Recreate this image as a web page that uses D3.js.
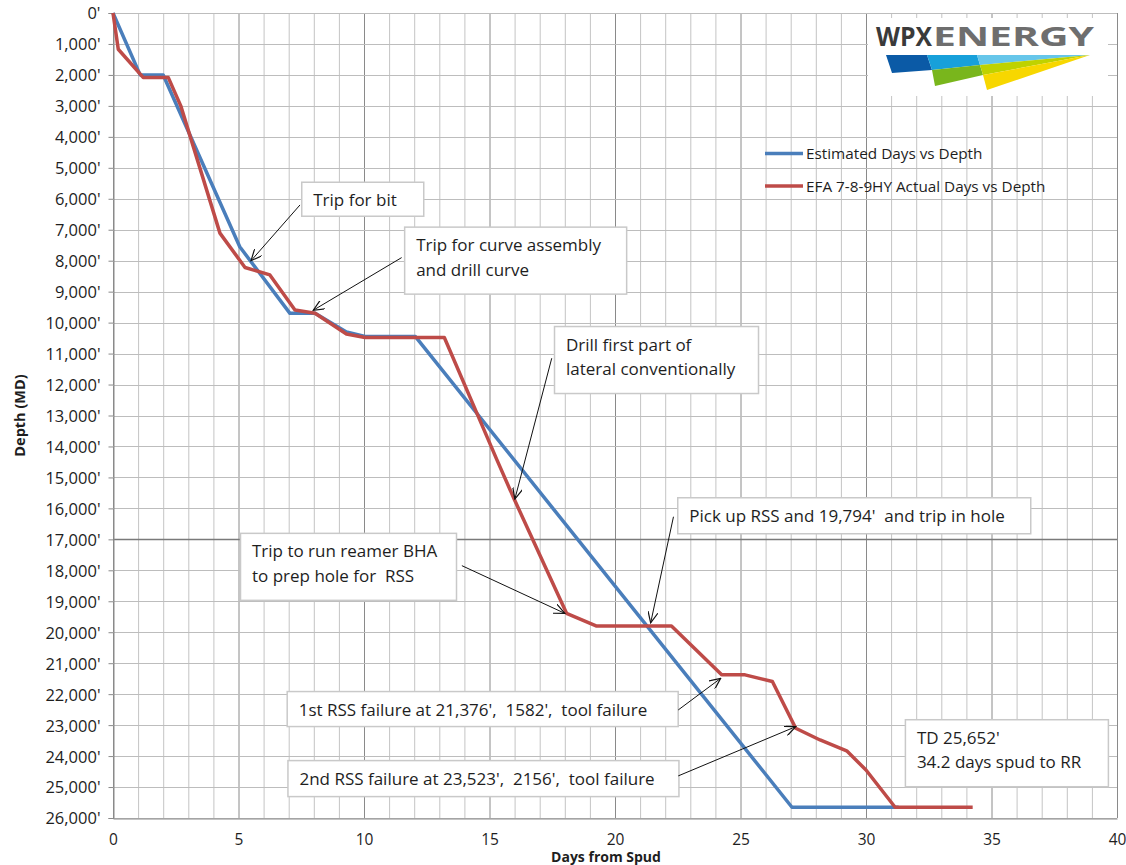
<!DOCTYPE html>
<html>
<head>
<meta charset="utf-8">
<script src="https://cdn.jsdelivr.net/npm/d3@7"></script>
<style>
  body { margin: 0; background: #fff; }
  text { font-family: "Open Sans", Lato, sans-serif; fill: #1e1e1e; white-space: pre; }
</style>
</head>
<body>
<svg width="1126" height="865"></svg>
<script>
// values
const estDays = [0, 1.08, 2.0, 5.05, 7.05, 8.05, 9.3, 10.04, 12.05, 27.05, 31.3];
const estDepth = [0, 2000, 2000, 7550, 9700, 9700, 10300, 10450, 10450, 25652, 25652];

const actDays = [0, 0.21, 1.2, 2.2, 2.7, 4.26, 5.26, 6.25, 7.25, 8.05, 9.3, 10.04, 13.2, 14.5, 15.3, 16.0, 18.07, 19.27, 22.25, 24.25, 25.18, 26.27, 27.2, 28.17, 29.23, 30.0, 31.16, 34.25];
const actDepth = [0, 1170, 2080, 2080, 3000, 7110, 8220, 8460, 9590, 9700, 10370, 10480, 10480, 12930, 14440, 15730, 19390, 19800, 19800, 21376, 21376, 21590, 23100, 23480, 23830, 24450, 25652, 25652];

const seriesNames = ["Estimated Days vs Depth", "EFA 7-8-9HY Actual Days vs Depth"];
const seriesColors = ["#4a7ebb", "#be4b48"];

const xTicks = d3.range(0, 41, 5);
const yTicks = d3.range(0, 26001, 1000);

// annotations: text lines, box anchor (day, depth) and arrow target (day, depth)
const notes = [
  { lines: ["Trip for bit"], box: [7.5, 5450], w: 122, h: 34, from: [7.45, 6200], to: [5.5, 8000] },
  { lines: ["Trip for curve assembly", "and drill curve"], box: [11.6, 6900], w: 222, h: 67, from: [11.5, 7900], to: [7.98, 9600] },
  { lines: ["Drill first part of", "lateral conventionally"], box: [17.57, 10110], w: 204, h: 67, from: [17.48, 11150], to: [16.01, 15700] },
  { lines: ["Pick up RSS and 19,794'  and trip in hole"], box: [22.48, 15640], w: 353, h: 36, from: [22.33, 16270], to: [21.42, 19700] },
  { lines: ["Trip to run reamer BHA", "to prep hole for  RSS"], box: [5.06, 16790], w: 216, h: 67, from: [13.9, 17850], to: [18.0, 19390] },
  { lines: ["1st RSS failure at 21,376',  1582',  tool failure"], box: [6.92, 21900], w: 391, h: 35, from: [22.52, 22510], to: [24.21, 21490] },
  { lines: ["2nd RSS failure at 23,523',  2156',  tool failure"], box: [6.95, 24130], w: 391, h: 36, from: [22.52, 24640], to: [27.2, 23050] },
  { lines: ["TD 25,652'", "34.2 days spud to RR"], box: [31.55, 22810], w: 203, h: 67 }
];

window.onload = () => {
  const svg = d3.select("svg");
  const left = 113, right = 1117, top = 13, bottom = 818;

  const xScale = d3.scaleLinear().domain([0, 40]).range([left, right]);
  const yScale = d3.scaleLinear().domain([0, 26000]).range([top, bottom]);

  const g = svg.append("g");

  // grid
  g.selectAll(".vgrid").data(d3.range(0, 41)).enter().append("line")
    .attr("x1", d => xScale(d) + 0.5).attr("x2", d => xScale(d) + 0.5)
    .attr("y1", top).attr("y2", bottom)
    .attr("stroke", d => d % 5 === 0 ? "#8a8a8a" : "#c4c4c4")
    .attr("stroke-width", 1);
  g.selectAll(".hgrid").data(yTicks).enter().append("line")
    .attr("x1", left).attr("x2", right)
    .attr("y1", d => Math.round(yScale(d)) + 0.5).attr("y2", d => Math.round(yScale(d)) + 0.5)
    .attr("stroke", d => d === 17000 ? "#7a7a7a" : "#bdbdbd")
    .attr("stroke-width", d => d === 17000 ? 1.3 : 1);

  // y axis
  const yAxis = d3.axisLeft(yScale).tickValues(yTicks).tickSize(5).tickPadding(8)
    .tickFormat(d => d3.format(",")(d) + "'");
  const yAxisG = g.append("g").attr("transform", `translate(${left + 0.5},0)`).call(yAxis);
  yAxisG.select(".domain").attr("stroke", "#8a8a8a");
  yAxisG.selectAll(".tick line").attr("stroke", "#8a8a8a");
  yAxisG.selectAll(".tick text").attr("font-size", 16.5).attr("font-family", "Open Sans").attr("fill", "#1e1e1e").attr("dy", "0.36em");

  // x axis
  const xAxis = d3.axisBottom(xScale).tickValues(xTicks).tickSize(0).tickPadding(15);
  const xAxisG = g.append("g").attr("transform", `translate(0,${bottom + 0.5})`).call(xAxis);
  xAxisG.select(".domain").attr("stroke", "#8a8a8a");
  xAxisG.selectAll(".tick text").attr("font-size", 15.5).attr("font-family", "Open Sans").attr("fill", "#1e1e1e");

  svg.append("text").attr("x", (left + right) / 2 - 9).attr("y", 862)
    .attr("text-anchor", "middle").attr("font-size", 14).attr("font-weight", "bold").text("Days from Spud");
  svg.append("text").attr("transform", `translate(25,${(top + bottom) / 2}) rotate(-90)`)
    .attr("text-anchor", "middle").attr("font-size", 14.5).attr("font-weight", "bold").text("Depth (MD)");

  // logo
  const logo = svg.append("g");
  logo.append("rect").attr("x", 868).attr("y", 18).attr("width", 240).attr("height", 78).attr("fill", "#fff");
  logo.append("text").attr("x", 876).attr("y", 46).attr("font-family", "Liberation Sans").attr("font-weight", "bold")
    .attr("font-size", 27).attr("textLength", 56).attr("lengthAdjust", "spacingAndGlyphs")
    .style("fill", "#3a3a3a").text("WPX");
  logo.append("text").attr("x", 933).attr("y", 46).attr("font-family", "Liberation Sans").attr("font-weight", "bold")
    .attr("font-size", 27).attr("textLength", 161).attr("lengthAdjust", "spacingAndGlyphs")
    .style("fill", "#6e6e6e").text("ENERGY");
  const wedges = [
    { c: "#0b5aa6", p: [[886, 55], [927, 55], [932, 70], [892, 73]] },
    { c: "#17a0da", p: [[927, 55], [977, 55], [980, 65], [932, 70]] },
    { c: "#66c6ea", p: [[977, 55], [1090, 55], [980, 65]] },
    { c: "#79b61c", p: [[932, 70], [980, 65], [983, 75], [935, 86]] },
    { c: "#bfd200", p: [[980, 65], [1090, 55], [983, 75]] },
    { c: "#f7d700", p: [[983, 75], [1090, 55], [987, 90]] }
  ];
  logo.selectAll("polygon").data(wedges).enter().append("polygon")
    .attr("points", d => d.p.map(q => q.join(",")).join(" "))
    .attr("fill", d => d.c);

  // lines
  const line = d3.line().x(d => xScale(d[0])).y(d => yScale(d[1]));
  const series = [d3.zip(estDays, estDepth), d3.zip(actDays, actDepth)];
  g.selectAll(".series").data(series).enter().append("path")
    .attr("d", line)
    .attr("fill", "none")
    .attr("stroke", (d, i) => seriesColors[i])
    .attr("stroke-width", 3.5)
    .attr("stroke-linejoin", "round");

  // legend
  const legend = svg.append("g");
  seriesNames.forEach((name, i) => {
    const ly = 153.5 + i * 32.5;
    legend.append("line").attr("x1", 765).attr("x2", 803).attr("y1", ly).attr("y2", ly)
      .attr("stroke", seriesColors[i]).attr("stroke-width", 3.5);
    legend.append("text").attr("x", 806).attr("y", ly + 5.5).attr("font-size", 15.3).text(name);
  });

  // annotation arrows
  svg.append("defs").append("marker")
    .attr("id", "arrow").attr("viewBox", "0 0 12 10").attr("refX", 11).attr("refY", 5)
    .attr("markerWidth", 12).attr("markerHeight", 10).attr("markerUnits", "userSpaceOnUse")
    .attr("orient", "auto")
    .append("path").attr("d", "M0,0 L11,5 L0,10").attr("fill", "none").attr("stroke", "#111").attr("stroke-width", 1.2);

  const ann = svg.append("g");
  notes.forEach(n => {
    const bx = xScale(n.box[0]), by = yScale(n.box[1]);
    ann.append("rect").attr("x", bx + 0.5).attr("y", by + 0.5).attr("width", n.w).attr("height", n.h)
      .attr("fill", "#fff").attr("stroke", "#c9c9c9").attr("stroke-width", 1.5);
    n.lines.forEach((t, k) => {
      ann.append("text").attr("x", bx + 12).attr("y", by + 24.5 + k * 24.5).attr("font-size", 17).text(t);
    });
    if (n.from) {
      ann.append("line")
        .attr("x1", xScale(n.from[0])).attr("y1", yScale(n.from[1]))
        .attr("x2", xScale(n.to[0])).attr("y2", yScale(n.to[1]))
        .attr("stroke", "#111").attr("stroke-width", 1)
        .attr("marker-end", "url(#arrow)");
    }
  });
};
</script>
</body>
</html>
